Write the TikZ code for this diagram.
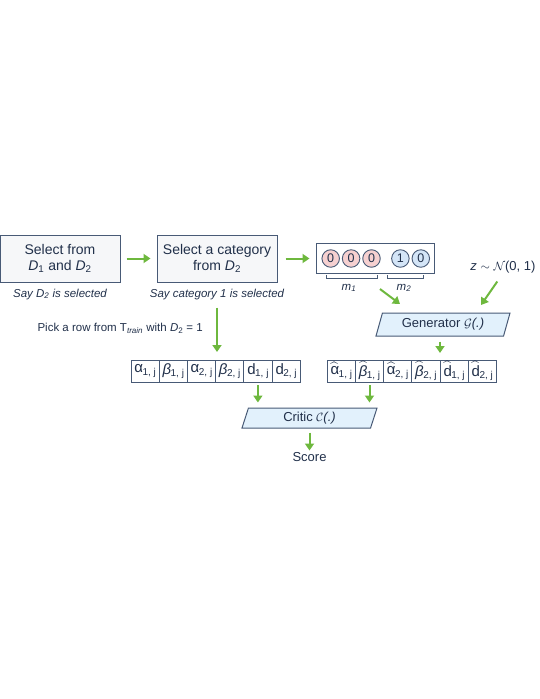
\documentclass[tikz,border=0pt]{standalone}
\usepackage{fontspec}
\setmainfont{Liberation Sans}
\usepackage{amsmath}
\usetikzlibrary{shapes.geometric, arrows.meta, positioning, calc}
\definecolor{navytext}{RGB}{33,48,74}
\definecolor{boxline}{RGB}{72,90,118}
\definecolor{lightgraybox}{RGB}{246,247,249}
\definecolor{lightpinkbox}{RGB}{246,208,208}
\definecolor{lightbluebox}{RGB}{212,229,247}
\definecolor{lightskybox}{RGB}{226,241,252}
\definecolor{accentgreen}{RGB}{110,184,62}
\tikzset{
  basebox/.style={
    rectangle, draw=boxline, line width=1pt, text=navytext, align=center, inner sep=0pt
  },
  selectbox/.style={basebox, fill=lightgraybox, minimum width=120pt, minimum height=47pt,
    font=\fontsize{14}{15.5}\selectfont},
  onehotbox/.style={basebox, fill=white, minimum width=118pt, minimum height=30pt},
  bitnode/.style={circle, draw=boxline, line width=0.9pt, minimum size=17.5pt, inner sep=0pt,
    text=navytext, font=\fontsize{12.5}{12.5}\selectfont},
  cellbox/.style={basebox, fill=white, outer sep=0pt, minimum width=28.2pt, minimum height=22pt,
    font=\fontsize{15}{15}\selectfont},
  procbox/.style={trapezium, trapezium left angle=62, trapezium right angle=118,
    trapezium stretches body, draw=boxline, line width=1pt, fill=lightskybox, text=navytext,
    inner sep=0pt, font=\fontsize{13}{13}\selectfont},
  notetext/.style={text=navytext, inner sep=0pt, font=\fontsize{11.5}{12}\selectfont\itshape},
  plaintext/.style={text=navytext, inner sep=0pt, font=\fontsize{11.5}{12}\selectfont},
  bigtext/.style={text=navytext, inner sep=0pt, font=\fontsize{13}{13}\selectfont},
  bracket/.style={draw=boxline, line width=0.9pt},
  greenarrow/.style={-{Triangle[width=9pt,length=7pt]}, line width=2pt, draw=accentgreen}
}
\newcommand{\hatsym}[1]{$\widehat{\text{#1}}$}
\newcommand{\cellsub}[1]{\kern-0.5pt{\fontsize{10}{10}\selectfont\raisebox{-2.5pt}{#1}}}

\begin{document}
\begin{tikzpicture}[x=1pt, y=-1pt]
  \useasboundingbox (0,0) rectangle (540,699);

  % selection steps
  \node[selectbox] (sel1) at (60,258.5)
        {Select from\\\textit{D}\textsubscript{1} and \textit{D}\textsubscript{2}};
  \node[selectbox, right=36pt of sel1] (sel2)
        {Select a category\\from \textit{D}\textsubscript{2}};
  \node[notetext, below=6pt of sel1] (sel1lbl) {Say \textit{D}\textsubscript{2} is selected};
  \node[notetext, below=6pt of sel2] (sel2lbl) {Say category 1 is selected};

  % one-hot condition vector
  \node[onehotbox, right=38pt of sel2] (oh) {};
  \node[bitnode, fill=lightpinkbox, right=6pt of oh.west] (b1) {0};
  \node[bitnode, fill=lightpinkbox, right=2pt of b1] (b2) {0};
  \node[bitnode, fill=lightpinkbox, right=2pt of b2] (b3) {0};
  \node[bitnode, fill=lightbluebox, right=10.5pt of b3] (b4) {1};
  \node[bitnode, fill=lightbluebox, right=2pt of b4] (b5) {0};
  \draw[bracket] (326,275) |- (377,278) -- (377,275);
  \draw[bracket] (387,275) |- (423,278) -- (423,275);
  \node[notetext] (m1) at (349,288) {m\textsubscript{1}};
  \node[notetext] (m2) at (404,288) {m\textsubscript{2}};

  % noise
  \node[bigtext] (zdist) at (503,267) {\textit{z} $\sim$ $\mathcal{N}$(0, 1)};

  % generator
  \node[procbox, minimum width=134pt, minimum height=23pt] (gen) at (443,324.5)
        {Generator $\mathcal{G}$\textit{(.)}};

  % real row
  \node[cellbox, anchor=west] (r1) at (131,371) {α\cellsub{1, j}};
  \node[cellbox, right=0pt of r1] (r2) {\textit{β}\cellsub{1, j}};
  \node[cellbox, right=0pt of r2] (r3) {α\cellsub{2, j}};
  \node[cellbox, right=0pt of r3] (r4) {\textit{β}\cellsub{2, j}};
  \node[cellbox, right=0pt of r4] (r5) {d\cellsub{1, j}};
  \node[cellbox, right=0pt of r5] (r6) {d\cellsub{2, j}};

  % generated row
  \node[cellbox, right=27pt of r6] (h1) {\hatsym{α}\cellsub{1, j}};
  \node[cellbox, right=0pt of h1] (h2) {\hatsym{\textit{β}}\cellsub{1, j}};
  \node[cellbox, right=0pt of h2] (h3) {\hatsym{α}\cellsub{2, j}};
  \node[cellbox, right=0pt of h3] (h4) {\hatsym{\textit{β}}\cellsub{2, j}};
  \node[cellbox, right=0pt of h4] (h5) {\hatsym{d}\cellsub{1, j}};
  \node[cellbox, right=0pt of h5] (h6) {\hatsym{d}\cellsub{2, j}};

  \node[plaintext, anchor=east] (pick) at (203,328)
        {Pick a row from T\textsubscript{\textit{train}} with \textit{D}\textsubscript{2} = 1};

  % critic and score
  \node[procbox, minimum width=135pt, minimum height=20pt] (critic) at (309.5,418)
        {Critic $\mathcal{C}$\textit{(.)}};
  \node[bigtext, below=24pt of critic] (score) {Score};

  % arrows
  \draw[greenarrow, shorten <=6pt, shorten >=6pt] (sel1) -- (sel2);
  \draw[greenarrow, shorten <=8pt, shorten >=6pt] (sel2) -- (oh);
  \draw[greenarrow, shorten <=8pt, shorten >=8pt] (sel2lbl.south) -- (sel2lbl.south |- r4.north);
  \coordinate (ohtap) at (380,289);
  \coordinate (ohin) at (400,304);
  \coordinate (zin) at (481,305);
  \draw[greenarrow] (ohtap) -- (ohin);
  \draw[greenarrow, shorten <=10pt] (zdist.south) -- (zin);
  \draw[greenarrow, shorten <=5pt, shorten >=7pt] (gen.south -| h4.north east) -- (h4.north east);
  \draw[greenarrow, shorten <=3pt, shorten >=5pt] (r5.south) -- (r5.south |- critic.north);
  \draw[greenarrow, shorten <=3pt, shorten >=5pt] (h2.south) -- (h2.south |- critic.north);
  \draw[greenarrow, shorten <=4pt, shorten >=2pt] (critic.south) -- (score.north);
\end{tikzpicture}
\end{document}
